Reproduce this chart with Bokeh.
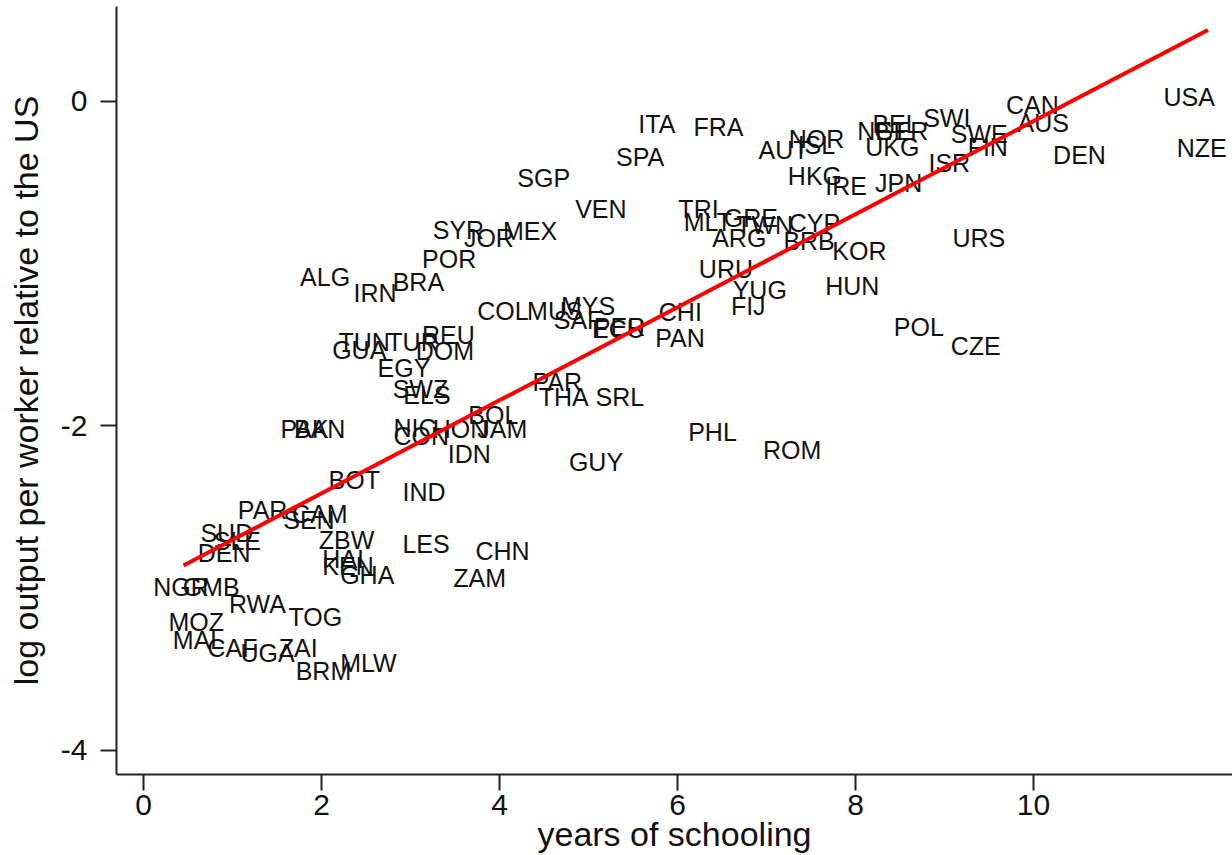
from bokeh.plotting import figure
from bokeh.models import ColumnDataSource, Range1d, FixedTicker
from bokeh.embed import file_html
from bokeh.resources import INLINE
from bokeh.core.properties import value

# country codes, years of schooling, log output per worker relative to the US
codes = [
    "USA", "NZE", "DEN", "CAN", "AUS", "SWI", "SWE", "FIN", "ISR", "BEL",
    "NET", "GER", "UKG", "JPN", "IRE", "HKG", "NOR", "ISL", "AUT", "URS",
    "KOR", "HUN", "POL", "CZE", "ROM", "PHL", "ITA", "FRA", "SPA", "SGP",
    "VEN", "TRI", "MLT", "GRE", "TWN", "CYP", "ARG", "BRB", "URU", "YUG",
    "FIJ", "CHI", "PAN", "SYR", "JOR", "MEX", "POR", "BRA", "ALG", "IRN",
    "COL", "MUS", "MYS", "SAF", "ECU", "PER", "TUN", "TUR", "REU", "GUA",
    "DOM", "EGY", "SWZ", "ELS", "PAR", "THA", "SRL", "BOL", "PAK", "BAN",
    "NIC", "CON", "HON", "JAM", "IDN", "GUY", "BOT", "IND", "PAR", "CAM",
    "SEN", "ZBW", "LES", "CHN", "ZAM", "SUD", "SLE", "DEN", "HAI", "KEN",
    "GHA", "NGR", "GMB", "RWA", "TOG", "MOZ", "MAL", "CAF", "UGA", "ZAI",
    "BRM", "MLW",
]
schooling = [
    11.46, 11.61, 10.22, 9.69, 9.82, 8.76, 9.07, 9.26, 8.82, 8.19,
    8.02, 8.21, 8.11, 8.22, 7.66, 7.24, 7.25, 7.35, 6.91, 9.09,
    7.74, 7.66, 8.43, 9.07, 6.96, 6.12, 5.56, 6.18, 5.31, 4.20,
    4.85, 6.01, 6.07, 6.52, 6.66, 7.25, 6.39, 7.19, 6.24, 6.62,
    6.60, 5.79, 5.75, 3.25, 3.60, 4.04, 3.13, 2.80, 1.76, 2.36,
    3.75, 4.31, 4.69, 4.61, 5.04, 5.06, 2.19, 2.74, 3.13, 2.12,
    3.06, 2.63, 2.80, 2.92, 4.37, 4.44, 5.08, 3.65, 1.54, 1.69,
    2.81, 2.81, 3.25, 3.75, 3.42, 4.78, 2.08, 2.91, 1.06, 1.67,
    1.57, 1.97, 2.91, 3.73, 3.48, 0.64, 0.79, 0.61, 2.01, 2.01,
    2.21, 0.11, 0.44, 0.96, 1.63, 0.28, 0.33, 0.72, 1.09, 1.52,
    1.71, 2.21,
]
log_output = [
    0.03, -0.29, -0.33, -0.02, -0.13, -0.10, -0.20, -0.28, -0.38, -0.14,
    -0.18, -0.18, -0.28, -0.50, -0.52, -0.46, -0.23, -0.27, -0.30, -0.84,
    -0.92, -1.14, -1.39, -1.51, -2.15, -2.04, -0.14, -0.16, -0.34, -0.47,
    -0.66, -0.66, -0.74, -0.72, -0.76, -0.75, -0.84, -0.86, -1.03, -1.16,
    -1.26, -1.30, -1.46, -0.79, -0.84, -0.80, -0.97, -1.11, -1.08, -1.18,
    -1.29, -1.29, -1.26, -1.35, -1.40, -1.39, -1.48, -1.48, -1.44, -1.53,
    -1.54, -1.64, -1.77, -1.81, -1.73, -1.82, -1.82, -1.93, -2.02, -2.02,
    -2.01, -2.06, -2.02, -2.02, -2.17, -2.22, -2.33, -2.41, -2.52, -2.54,
    -2.58, -2.70, -2.73, -2.77, -2.94, -2.66, -2.71, -2.78, -2.82, -2.86,
    -2.92, -2.99, -2.99, -3.10, -3.18, -3.21, -3.32, -3.37, -3.40, -3.37,
    -3.51, -3.46,
]

# fitted regression line (end points)
fit_x = [0.45, 11.96]
fit_y = [-2.86, 0.44]

x_ticks = [0, 2, 4, 6, 8, 10]
y_ticks = [0, -2, -4]
y_tick_labels = {0: "0", -2: "-2", -4: "-4"}

src = ColumnDataSource(dict(x=schooling, y=log_output, code=codes))

FONT = "Liberation Sans"

p = figure(
    width=1232, height=855,
    x_range=Range1d(-0.303, 12.236), y_range=Range1d(-4.148, 0.585),
    output_backend="svg", toolbar_location=None,
    min_border_left=116, min_border_right=0, min_border_top=6, min_border_bottom=80,
)
p.outline_line_color = None
p.grid.visible = False
p.background_fill_color = "white"
p.border_fill_color = "white"

p.text(x="x", y="y", text="code", source=src,
       text_font=value(FONT), text_font_size="25px",
       text_baseline="middle", text_align="left", text_color="#111111")

p.line(fit_x, fit_y, line_color="#ff0000", line_width=4)

for ax in (p.xaxis[0], p.yaxis[0]):
    ax.axis_line_color = "#222222"
    ax.axis_line_width = 2
    ax.major_tick_line_color = "#222222"
    ax.major_tick_line_width = 2
    ax.major_tick_out = 16
    ax.major_tick_in = 0
    ax.minor_tick_out = 0
    ax.minor_tick_in = 0
    ax.major_label_text_font = FONT
    ax.major_label_text_font_size = "30px"
    ax.major_label_text_color = "#111111"
    ax.axis_label_text_font = FONT
    ax.axis_label_text_font_size = "34px"
    ax.axis_label_text_font_style = "normal"
    ax.axis_label_text_color = "#111111"

p.xaxis.ticker = FixedTicker(ticks=x_ticks)
p.yaxis.ticker = FixedTicker(ticks=y_ticks)
p.yaxis.major_label_overrides = y_tick_labels
p.xaxis.axis_label = "years of schooling"
p.yaxis.axis_label = "log output per worker relative to the US"
p.yaxis.major_label_standoff = 13
p.xaxis.major_label_standoff = 4
p.yaxis.axis_label_standoff = 13
p.xaxis.axis_label_standoff = -3

open("out.html", "w").write(file_html(p, INLINE))
